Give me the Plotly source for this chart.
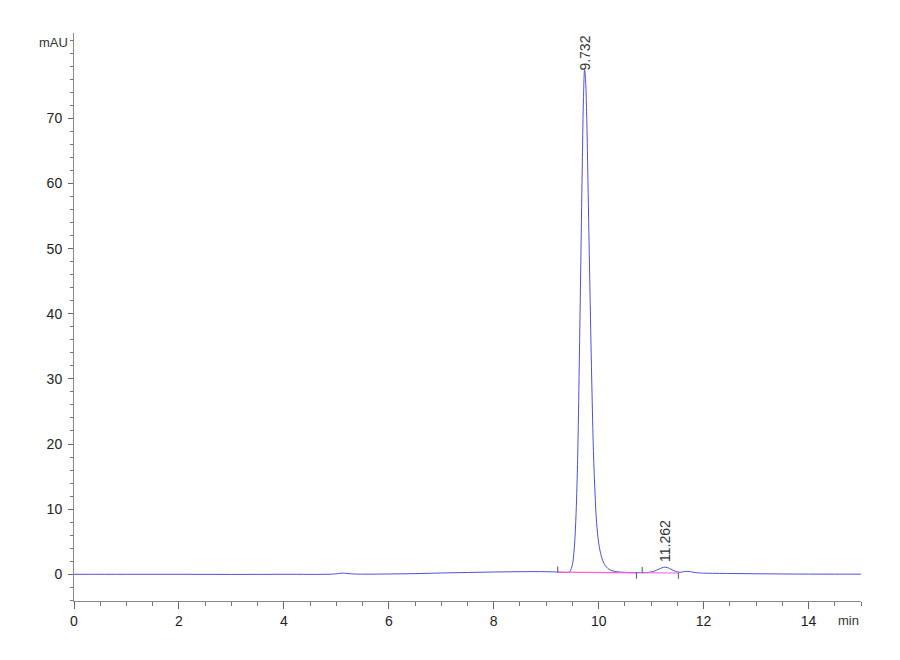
import plotly.graph_objects as go

# chromatogram trace (min, mAU)
time = [0.0, 1.0, 2.0, 3.0, 4.0, 4.9, 5.05, 5.12, 5.2, 5.4, 6.0, 6.5, 7.0, 7.5, 8.0,
        8.5, 9.0, 9.2, 9.3, 9.4, 9.45, 9.48, 9.51, 9.54, 9.57, 9.60, 9.63, 9.66,
        9.69, 9.71, 9.732, 9.75, 9.77, 9.79, 9.81, 9.84, 9.87, 9.90, 9.93, 9.96,
        10.00, 10.05, 10.10, 10.15, 10.20, 10.30, 10.40, 10.50, 10.70, 10.90,
        11.05, 11.15, 11.262, 11.35, 11.45, 11.55, 11.65, 11.75, 11.85, 12.0,
        12.5, 13.0, 13.5, 14.0, 14.5, 15.0]
signal = [0.0, 0.0, 0.0, -0.02, 0.0, 0.02, 0.12, 0.18, 0.12, 0.03, 0.05, 0.1, 0.2,
          0.28, 0.35, 0.4, 0.4, 0.35, 0.3, 0.28, 0.4, 0.9, 2.0, 4.5, 9.5, 18.0,
          32.0, 48.0, 64.0, 73.0, 77.5, 76.0, 71.0, 63.0, 54.0, 41.0, 29.0, 19.0,
          12.5, 8.0, 4.8, 2.8, 1.7, 1.1, 0.75, 0.45, 0.35, 0.3, 0.25, 0.25, 0.45,
          0.8, 1.1, 0.9, 0.5, 0.3, 0.45, 0.4, 0.25, 0.18, 0.12, 0.08, 0.05, 0.03,
          0.02, 0.02]

# integration baselines
base_t = [[9.22, 10.72], [10.83, 11.52]]
base_y = [[0.32, 0.22], [0.24, 0.2]]

# peak start/end markers: time, level, direction
mark_t = [9.22, 10.72, 10.83, 11.52]
mark_y = [0.32, 0.22, 0.24, 0.2]
mark_dir = [1, -1, 1, -1]

peak_t = [9.732, 11.262]
peak_y = [77.5, 1.1]
peak_lbl = ["9.732", "11.262"]
peak_shift = [-3, 3]

fig = go.Figure()
fig.add_trace(go.Scatter(x=time, y=signal, mode="lines",
                         line=dict(color="#4f4fdc", width=1), line_shape="spline"))
for bt, by in zip(base_t, base_y):
    fig.add_trace(go.Scatter(x=bt, y=by, mode="lines",
                             line=dict(color="#ff5fd0", width=1.2)))
for mt, my, md in zip(mark_t, mark_y, mark_dir):
    fig.add_trace(go.Scatter(x=[mt, mt], y=[my, my + md * 0.9], mode="lines",
                             line=dict(color="#555555", width=1)))

for pt, py, pl, ps in zip(peak_t, peak_y, peak_lbl, peak_shift):
    fig.add_annotation(x=pt, y=py, text=pl, textangle=-90, showarrow=False,
                       yanchor="bottom", xanchor="center", yshift=ps,
                       font=dict(size=14, color="#333333"))

fig.add_annotation(x=0, y=1, xref="paper", yref="paper", text="mAU", showarrow=False,
                   xanchor="right", yanchor="top", xshift=-4, yshift=0,
                   font=dict(size=13, color="#333333"))
fig.add_annotation(x=1, y=0, xref="paper", yref="paper", text="min", showarrow=False,
                   xanchor="right", yanchor="top", xshift=0, yshift=-10,
                   font=dict(size=13, color="#333333"))

# page body adds 8px offset, margins compensate
fig.update_layout(
    width=900, height=660,
    margin=dict(l=66, r=47, t=25, b=67),
    plot_bgcolor="white", paper_bgcolor="white",
    showlegend=False,
    font=dict(family="Liberation Sans", size=14, color="#222222"),
    xaxis=dict(range=[0, 15], showgrid=False, zeroline=False,
               showline=True, linecolor="#888888", linewidth=1,
               ticks="outside", ticklen=7, tickcolor="#666666",
               tickvals=[0, 2, 4, 6, 8, 10, 12, 14],
               minor=dict(dtick=0.5, ticks="outside", ticklen=4, tickcolor="#777777")),
    yaxis=dict(range=[-4.1, 83.1], tickvals=[0, 10, 20, 30, 40, 50, 60, 70],
               showgrid=False, zeroline=False, ticklabelstandoff=3,
               showline=True, linecolor="#888888", linewidth=1,
               ticks="outside", ticklen=5, tickcolor="#666666",
               minor=dict(dtick=2, tick0=0, ticks="outside", ticklen=3, tickcolor="#777777")),
)

fig.write_html("out.html")
